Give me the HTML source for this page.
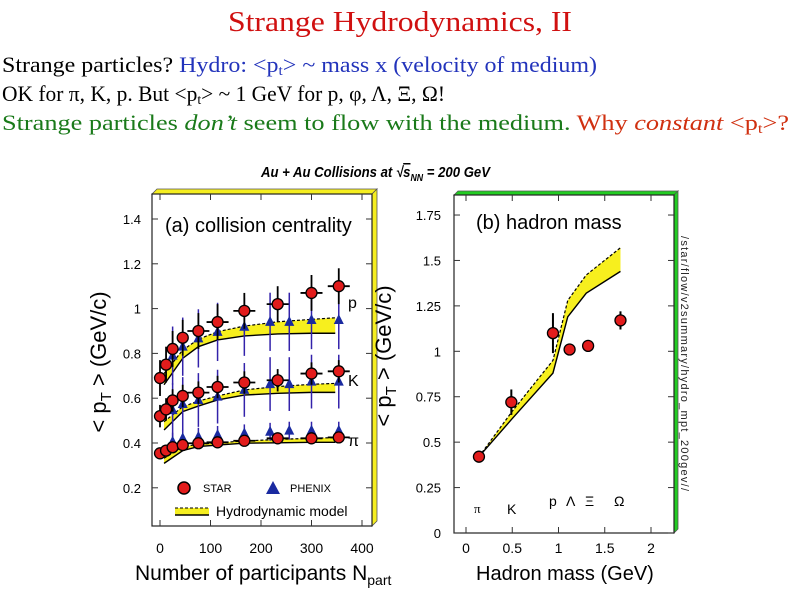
<!DOCTYPE html>
<html><head><meta charset="utf-8"><style>
html,body{margin:0;padding:0;background:#fff;width:800px;height:600px;overflow:hidden}
svg{display:block}
.ser{font-family:"Liberation Serif",serif}
.san{font-family:"Liberation Sans",sans-serif}
</style></head><body>
<svg id="s" width="800" height="600" xmlns="http://www.w3.org/2000/svg">
<text class="ser" x="228" y="31" font-size="28" fill="#d01010" textLength="344" lengthAdjust="spacingAndGlyphs">Strange Hydrodynamics, II</text>
<text class="ser" x="2" y="72" font-size="22" textLength="595" lengthAdjust="spacingAndGlyphs"><tspan fill="#000">Strange particles? </tspan><tspan fill="#2233bb">Hydro: &lt;p<tspan font-size="14" dy="3">t</tspan><tspan dy="-3">&gt; ~ mass x (velocity of medium)</tspan></tspan></text>
<text class="ser" x="2" y="101" font-size="22" fill="#000" textLength="443" lengthAdjust="spacingAndGlyphs">OK for π, K, p.  But  &lt;p<tspan font-size="14" dy="3">t</tspan><tspan dy="-3">&gt; ~ 1 GeV for p, φ, Λ, Ξ, Ω!</tspan></text>
<text class="ser" x="2" y="130" font-size="22" fill="#1a7a1a" textLength="787" lengthAdjust="spacingAndGlyphs">Strange particles <tspan font-style="italic">don’t</tspan> seem to flow with the medium.  <tspan fill="#d03010">Why <tspan font-style="italic">constant</tspan> &lt;p<tspan font-size="14" dy="3">t</tspan><tspan dy="-3">&gt;?</tspan></tspan></text>
<text class="san" x="261" y="177" font-size="15" font-weight="bold" font-style="italic" textLength="229" lengthAdjust="spacingAndGlyphs">Au + Au Collisions at √<tspan text-decoration="overline">s</tspan><tspan font-size="10" dy="4">NN</tspan><tspan dy="-4"> = 200 GeV</tspan></text>

<!-- left panel frame -->
<polygon points="152,194 157,189 377,189 372,194" fill="#f5ee20" stroke="#555" stroke-width="0.8"/>
<polygon points="372,194 377,189 377,521 372,526" fill="#f5ee20" stroke="#555" stroke-width="0.8"/>
<rect x="152" y="194" width="220" height="332" fill="#fff" stroke="#222" stroke-width="1.2"/>
<g id="L"></g>
<text class="san" x="165" y="232" font-size="20">(a) collision centrality</text>
<text class="san" x="348" y="308" font-size="16">p</text>
<text class="san" x="348" y="386" font-size="16">K</text>
<text class="san" x="348" y="446" font-size="16">π</text>
<circle cx="184" cy="488" r="6" fill="#e21c1c" stroke="#000" stroke-width="1.5"/>
<text class="san" x="203" y="492" font-size="11">STAR</text>
<polygon points="273,481 280,494 266,494" fill="#1a2aa0"/>
<text class="san" x="290" y="492" font-size="11">PHENIX</text>
<rect x="175" y="508" width="34" height="7" fill="#f5ee20"/>
<line x1="175" y1="508" x2="209" y2="508" stroke="#000" stroke-dasharray="3,2"/>
<line x1="175" y1="515" x2="209" y2="515" stroke="#000" stroke-width="1.5"/>
<text class="san" x="216" y="516" font-size="14">Hydrodynamic model</text>
<text class="san" transform="translate(106,362) rotate(-90)" text-anchor="middle" font-size="22">&lt; p<tspan font-size="15" dy="5">T</tspan><tspan dy="-5"> &gt; (GeV/c)</tspan></text>
<text class="san" x="135" y="580" font-size="21">Number of participants N<tspan font-size="14" dy="5">part</tspan></text>

<!-- right panel frame -->
<polygon points="454,195 458,191 678,191 674,195" fill="#22cc22" stroke="#555" stroke-width="0.8"/>
<polygon points="674,195 678,191 678,529 674,533" fill="#22cc22" stroke="#555" stroke-width="0.8"/>
<rect x="454" y="195" width="220" height="338" fill="#fff" stroke="#222" stroke-width="1.2"/>
<g id="R"></g>
<text class="san" x="476" y="229" font-size="20">(b) hadron mass</text>
<text class="ser" x="474" y="513" font-size="13">π</text>
<text class="san" x="507" y="514" font-size="14">K</text>
<text class="san" x="549" y="506" font-size="14">p</text>
<text class="san" x="566" y="506" font-size="14">Λ</text>
<text class="san" x="585" y="506" font-size="14">Ξ</text>
<text class="san" x="614" y="506" font-size="14">Ω</text>
<text class="san" transform="translate(391,356) rotate(-90)" text-anchor="middle" font-size="22">&lt; p<tspan font-size="15" dy="5">T</tspan><tspan dy="-5"> &gt; (GeV/c)</tspan></text>
<text class="san" x="476" y="580" font-size="20">Hadron mass (GeV)</text>
<text class="san" transform="translate(681,236) rotate(90)" font-size="11" fill="#222" textLength="255">/star/flow/v2summary/hydro_mpt_200gev//</text>
</svg>
<script>
// ---- left panel data ----
const leftYTicks=[0.2,0.4,0.6,0.8,1,1.2,1.4];
const leftYTickLabels=["0.2","0.4","0.6","0.8","1","1.2","1.4"];
const leftXTicks=[0,100,200,300,400];
const leftXTickLabels=["0","100","200","300","400"];
const starNpart=[0,12,25,45,76,114,167,233,300,354];
const starP=[0.69,0.75,0.82,0.87,0.90,0.94,0.99,1.02,1.07,1.10];
const starK=[0.52,0.55,0.59,0.61,0.625,0.65,0.67,0.68,0.71,0.72];
const starPi=[0.354,0.366,0.381,0.391,0.399,0.403,0.41,0.421,0.421,0.425];
const phenixNpart=[25,45,76,114,167,218,256,300,354];
const phenixP=[0.79,0.83,0.867,0.896,0.919,0.941,0.941,0.949,0.949];
const phenixK=[0.547,0.574,0.592,0.607,0.637,0.663,0.663,0.674,0.674];
const phenixPi=[0.406,0.421,0.428,0.436,0.443,0.45,0.455,0.455,0.455];
const modelNpart=[8,45,76,114,167,233,300,347];
const modelPUp=[0.71,0.815,0.863,0.897,0.922,0.941,0.952,0.959];
const modelPLo=[0.66,0.778,0.83,0.86,0.878,0.887,0.89,0.89];
const modelKUp=[0.495,0.562,0.587,0.61,0.637,0.652,0.662,0.666];
const modelKLo=[0.458,0.54,0.565,0.592,0.614,0.622,0.626,0.626];
const modelPiUp=[0.332,0.384,0.394,0.401,0.409,0.416,0.421,0.424];
const modelPiLo=[0.309,0.366,0.384,0.391,0.399,0.401,0.403,0.403];
// ---- right panel data ----
const rightYTicks=[0,0.25,0.5,0.75,1,1.25,1.5,1.75];
const rightYTickLabels=["0","0.25","0.5","0.75","1","1.25","1.5","1.75"];
const rightXTicks=[0,0.5,1,1.5,2];
const rightXTickLabels=["0","0.5","1","1.5","2"];
const hadronMass=[0.14,0.49,0.94,1.12,1.32,1.67];
const hadronMpt=[0.42,0.72,1.10,1.01,1.03,1.17];
const hadronErr=[0.01,0.07,0.11,0.03,0.03,0.05];
const bandMass=[0.14,0.5,0.94,1.1,1.3,1.67];
const bandUp=[0.42,0.67,0.95,1.28,1.42,1.57];
const bandLo=[0.42,0.63,0.88,1.19,1.32,1.44];

const NS="http://www.w3.org/2000/svg";
function mk(p,t,a){const e=document.createElementNS(NS,t);for(const k in a)e.setAttribute(k,a[k]);p.appendChild(e);return e;}
const xL=n=>160+n*0.505, yL=v=>219+(1.4-v)*224;
const xR=m=>466+m*92.5, yR=v=>533-v*181.7;
const L=document.getElementById('L'), R=document.getElementById('R');

leftYTicks.forEach((v,i)=>{
  const t=mk(L,'line',{x1:152,x2:158,y1:yL(v),y2:yL(v),stroke:'#333'});
  
  
  const t2=mk(L,'line',{x1:366,x2:372,y1:yL(v),y2:yL(v),stroke:'#333'});
  
  
  const l=mk(L,'text',{x:141,y:yL(v)+5,'text-anchor':'end','font-size':13,'font-family':'Liberation Sans, sans-serif'});
  l.textContent=leftYTickLabels[i];
  
  
});
leftXTicks.forEach((v,i)=>{
  const t=mk(L,'line',{x1:xL(v),x2:xL(v),y1:520,y2:526,stroke:'#333'});
  
  
  const t2=mk(L,'line',{x1:xL(v),x2:xL(v),y1:194,y2:200,stroke:'#333'});
  
  
  const l=mk(L,'text',{x:xL(v),y:553,'text-anchor':'middle','font-size':14,'font-family':'Liberation Sans, sans-serif'});
  l.textContent=leftXTickLabels[i];
  
  
});
function band(g,xs,up,lo,fx,fy,name){
  let d='M'+xs.map((x,i)=>fx(x)+','+fy(up[i])).join(' L');
  d+=' L'+xs.map((x,i)=>fx(x)+','+fy(lo[i])).reverse().join(' L')+'Z';
  const b=mk(g,'path',{d:d,fill:'#f7ef1e',stroke:'none'});
  
  
  const u=mk(g,'polyline',{points:xs.map((x,i)=>fx(x)+','+fy(up[i])).join(' '),fill:'none',stroke:'#000','stroke-width':1.2,'stroke-dasharray':'3,2'});
  
  
  const w=mk(g,'polyline',{points:xs.map((x,i)=>fx(x)+','+fy(lo[i])).join(' '),fill:'none',stroke:'#000','stroke-width':1.4});
  
  
}
band(L,modelNpart,modelPUp,modelPLo,xL,yL,'hydro-p');
band(L,modelNpart,modelKUp,modelKLo,xL,yL,'hydro-k');
band(L,modelNpart,modelPiUp,modelPiLo,xL,yL,'hydro-pi');
function phenix(vals,err,name){
  phenixNpart.forEach((n,i)=>{
    const x=xL(n),y=yL(vals[i]);
    const e=mk(L,'line',{x1:x,x2:x,y1:yL(vals[i]+err),y2:yL(vals[i]-err),stroke:'#3322aa','stroke-width':1.5});
    
    
    const p=mk(L,'polygon',{points:`${x},${y-6} ${x+5},${y+4} ${x-5},${y+4}`,fill:'#1a2aa0'});
    
    
  });
}
phenix(phenixP,0.13,'phenix-p');phenix(phenixK,0.12,'phenix-k');phenix(phenixPi,0.04,'phenix-pi');
function star(vals,err,name){
  starNpart.forEach((n,i)=>{
    const x=xL(n),y=yL(vals[i]);
    const e=mk(L,'line',{x1:x,x2:x,y1:yL(vals[i]+err),y2:yL(vals[i]-err),stroke:'#000','stroke-width':1.8});
    
    
    if(n>60){const h=mk(L,'line',{x1:x-11,x2:x+11,y1:y,y2:y,stroke:'#000','stroke-width':1.8});
      
      }
    const c=mk(L,'circle',{cx:x,cy:y,r:5.5,fill:'#e21c1c',stroke:'#000','stroke-width':1.3});
    
    
  });
}
star(starP,0.08,'star-p');star(starK,0.05,'star-k');star(starPi,0.02,'star-pi');

rightYTicks.forEach((v,i)=>{
  const t=mk(R,'line',{x1:454,x2:460,y1:yR(v),y2:yR(v),stroke:'#333'});
  
  
  const t2=mk(R,'line',{x1:668,x2:674,y1:yR(v),y2:yR(v),stroke:'#333'});
  
  
  const l=mk(R,'text',{x:441,y:yR(v)+5,'text-anchor':'end','font-size':13,'font-family':'Liberation Sans, sans-serif'});
  l.textContent=rightYTickLabels[i];
  
  
});
rightXTicks.forEach((v,i)=>{
  const t=mk(R,'line',{x1:xR(v),x2:xR(v),y1:527,y2:533,stroke:'#333'});
  
  
  const t2=mk(R,'line',{x1:xR(v),x2:xR(v),y1:195,y2:201,stroke:'#333'});
  
  
  const l=mk(R,'text',{x:xR(v),y:553,'text-anchor':'middle','font-size':14,'font-family':'Liberation Sans, sans-serif'});
  l.textContent=rightXTickLabels[i];
  
  
});
band(R,bandMass,bandUp,bandLo,xR,yR,'hydro-mass');
hadronMass.forEach((m,i)=>{
  const x=xR(m),y=yR(hadronMpt[i]);
  const e=mk(R,'line',{x1:x,x2:x,y1:yR(hadronMpt[i]+hadronErr[i]),y2:yR(hadronMpt[i]-hadronErr[i]),stroke:'#000','stroke-width':2});
  
  
  const c=mk(R,'circle',{cx:x,cy:y,r:5.5,fill:'#e21c1c',stroke:'#000','stroke-width':1.3});
  
  
});
</script>
</body></html>
